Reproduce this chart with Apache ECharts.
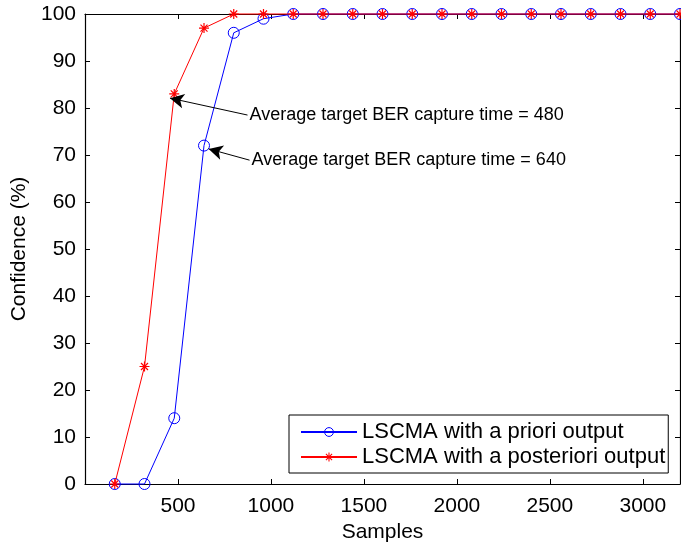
<!DOCTYPE html>
<html>
<head>
<meta charset="utf-8">
<script src="https://cdn.jsdelivr.net/npm/echarts@6/dist/echarts.min.js"></script>
<style>
  html, body { margin: 0; padding: 0; background: #fff; }
  #chart { width: 681px; height: 544px; }
</style>
</head>
<body>
<div id="chart"></div>
<script>
// Sample counts at which confidence was measured
const samples = [160, 320, 480, 640, 800, 960, 1120, 1280, 1440, 1600, 1760, 1920,
                 2080, 2240, 2400, 2560, 2720, 2880, 3040, 3200];
// Confidence (%) for each output type
const aPriori     = [0, 0, 14, 72, 96, 99, 100, 100, 100, 100, 100, 100, 100, 100, 100, 100, 100, 100, 100, 100];
const aPosteriori = [0, 25, 83, 97, 100, 100, 100, 100, 100, 100, 100, 100, 100, 100, 100, 100, 100, 100, 100, 100];
const seriesNames = ['LSCMA with a priori output', 'LSCMA with a posteriori output'];
// Axis ranges and tick steps
const xRange = [0, 3200], xStep = 500;
const yRange = [0, 100], yStep = 10;
// Annotation texts with arrow tail / tip in data coordinates
const noteTexts = ['Average target BER capture time = 480', 'Average target BER capture time = 640'];
const noteTails = [[874, 78.5], [885, 68.9]];
const noteTips  = [[457, 82.1], [665, 71.3]];

const FONT = 'Liberation Sans, Arial, Helvetica, sans-serif';

// MATLAB-style asterisk: plus and cross bars
const asterisk = 'path://M44 0L56 0L56 100L44 100Z M0 44L100 44L100 56L0 56Z ' +
  'M10.8 19.2L19.2 10.8L89.2 80.8L80.8 89.2Z M80.8 10.8L89.2 19.2L19.2 89.2L10.8 80.8Z';

const chart = echarts.init(document.getElementById('chart'), null, { renderer: 'canvas' });

function axisBase(pos, show) {
  return {
    position: pos,
    axisLine: { show: true, onZero: false, lineStyle: { color: '#000', width: 1.2 } },
    axisTick: { show: true, inside: true, length: 5, lineStyle: { color: '#000', width: 1 } },
    splitLine: { show: false },
    axisLabel: { show: show, color: '#000', fontFamily: FONT, fontSize: 21 }
  };
}

const xMain = Object.assign(axisBase('bottom', true), {
  type: 'value', min: xRange[0], max: xRange[1], interval: xStep,
  name: 'Samples', nameLocation: 'middle', nameGap: 30,
  nameTextStyle: { color: '#000', fontFamily: FONT, fontSize: 21 }
});
xMain.axisLabel.margin = 12;
xMain.axisLabel.showMaxLabel = false;
xMain.axisLabel.formatter = v => (v > 0 && v % xStep === 0 ? String(v) : '');

const xTop = Object.assign(axisBase('top', false), {
  type: 'value', min: xRange[0], max: xRange[1], interval: xStep
});

const yMain = Object.assign(axisBase('left', true), {
  type: 'value', min: yRange[0], max: yRange[1], interval: yStep,
  name: 'Confidence (%)', nameLocation: 'middle', nameGap: 51,
  nameTextStyle: { color: '#000', fontFamily: FONT, fontSize: 21 }
});
yMain.axisLabel.margin = 9;

const yRight = Object.assign(axisBase('right', false), {
  type: 'value', min: yRange[0], max: yRange[1], interval: yStep
});

const arrowData = noteTails.map((t, i) => [{ coord: t }, { coord: noteTips[i] }]);

chart.setOption({
  animation: false,
  backgroundColor: '#fff',
  grid: { left: 85, right: 1, top: 14, bottom: 60, containLabel: false, outerBoundsMode: 'none' },
  xAxis: [xMain, xTop],
  yAxis: [yMain, yRight],
  legend: {
    orient: 'vertical', left: 289, bottom: 71,
    backgroundColor: '#fff', borderColor: '#000', borderWidth: 1,
    padding: [6, 3, 5, 11], itemGap: 3, itemWidth: 56, itemHeight: 11,
    itemStyle: { borderWidth: 1 },
    textStyle: { color: '#000', fontFamily: FONT, fontSize: 22, lineHeight: 22 },
    data: seriesNames
  },
  series: [
    {
      name: seriesNames[0], type: 'line', xAxisIndex: 0, yAxisIndex: 0,
      data: samples.map((s, i) => [s, aPriori[i]]),
      symbol: 'circle', symbolSize: 11, showAllSymbol: true,
      lineStyle: { color: '#0000ff', width: 1 },
      itemStyle: { color: 'rgba(0,0,0,0)', borderColor: '#0000ff', borderWidth: 1 },
      emphasis: { disabled: true }, clip: false, z: 2
    },
    {
      name: seriesNames[1], type: 'line', xAxisIndex: 0, yAxisIndex: 0,
      data: samples.map((s, i) => [s, aPosteriori[i]]),
      symbol: asterisk, symbolSize: 10, showAllSymbol: true,
      lineStyle: { color: '#ff0000', width: 1 },
      itemStyle: { color: '#ff0000', borderWidth: 0 },
      emphasis: { disabled: true }, clip: false, z: 3,
      markLine: {
        silent: true, animation: false,
        symbol: ['none', 'arrow'], symbolSize: [11, 14],
        lineStyle: { color: '#000', width: 1, type: 'solid' },
        label: { show: false },
        data: arrowData
      }
    }
  ]
});

// Annotation texts placed just right of each arrow tail
const notes = noteTexts.map((txt, i) => {
  const p = chart.convertToPixel({ gridIndex: 0 }, noteTails[i]);
  return {
    type: 'text', x: p[0] + 2, y: p[1], z: 10,
    style: { text: txt, fill: '#000', font: '18px ' + FONT, verticalAlign: 'middle', align: 'left' }
  };
});
chart.setOption({ graphic: notes });
</script>
</body>
</html>
